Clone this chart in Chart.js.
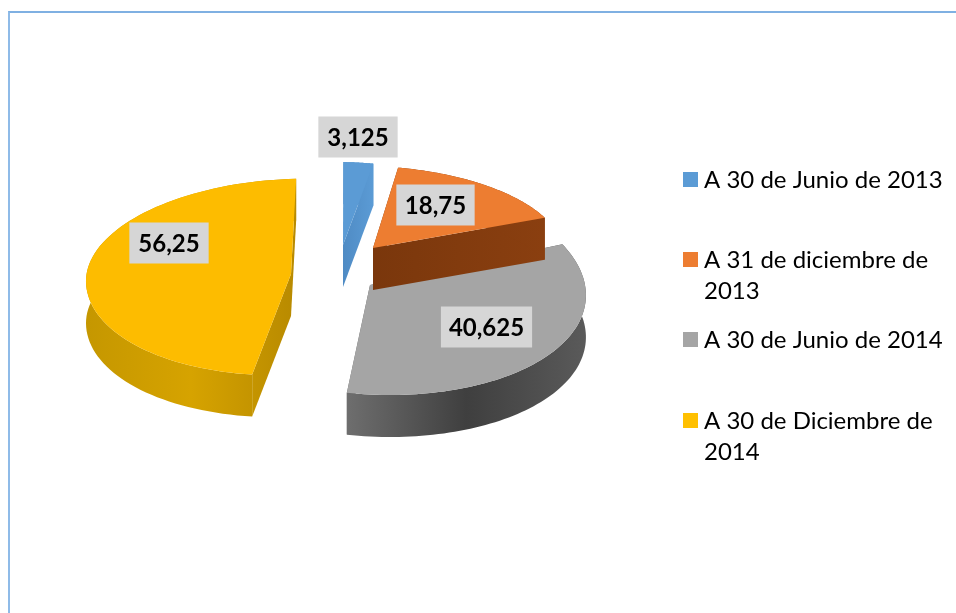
<!DOCTYPE html>
<html lang="es">
<head>
  <meta charset="UTF-8" />
  <title>Pie 3D</title>
  <script src="https://cdn.jsdelivr.net/npm/chart.js"></script>
  <style>
    html, body { margin: 0; background: #fff; overflow: hidden; }
    #frame { position: absolute; left: 8px; top: 11px; right: -4px; bottom: -4px;
             border-left: 2px solid #8fbbe8; border-top: 2px solid #7fb0e2; }
    canvas { position: absolute; left: 0; top: 0; }
  </style>
</head>
<body>
  <div id="frame"></div>
  <canvas id="pie" width="956" height="613"></canvas>

  <script>
    const categories = ["A 30 de Junio de 2013", "A 31 de diciembre de 2013", "A 30 de Junio de 2014", "A 30 de Diciembre de 2014"];
    const values = [3.125, 18.75, 40.625, 56.25];
    const colors = ["#5B9BD5", "#ED7D31", "#A5A5A5", "#FFC000"];

    // Legend wrap, same as the original
    const legendLines = [["A 30 de Junio de 2013"], ["A 31 de diciembre de", "2013"], ["A 30 de Junio de 2014"], ["A 30 de Diciembre de", "2014"]];
    const legendY = [180, 260, 340, 421];

    // Fake 3D: each exploded slice gets its own apex and ellipse on screen.
    // k and q lean the ellipse a bit, this stands in for the perspective of the original.
    const shapes = [
      { ax: 343, ay: 245, rx: 182, ry: 83, ryLow: 83, k: -6, q: 0, top: "#5B9BD5", side: ["#4F8BC4", "#5B9BD5"], labelX: 358, labelY: 137, pad: 18 },
      { ax: 373, ay: 248, rx: 190, ry: 82, ryLow: 82, k: -13, q: 0, top: "#ED7D31", side: ["#7A370C", "#8A3F10"], labelX: 435.5, labelY: 205, pad: 17 },
      { ax: 370, ay: 285, rx: 215, ry: 110, ryLow: 110, k: -20, q: 0, top: "#A5A5A5", side: ["#6E6E6E", "#3F3F3F", "#5A5A5A"], labelX: 486.5, labelY: 327, pad: 16 },
      { ax: 291, ay: 274, rx: 205, ry: 95, ryLow: 101, k: -2, q: -8, top: "#FDBC00", side: ["#C59700", "#D6A300", "#B88A00"], labelX: 169, labelY: 243, pad: 18 }
    ];
    const depth = 42;
    const drawOrder = [2, 1, 0, 3];

    function rimPoint(s, a) {
      const t = a + Math.PI / 2; // clockwise from the top
      const c = Math.cos(t), n = Math.sin(t);
      return { x: s.ax + s.rx * n + s.k * c, y: s.ay - (c > 0 ? s.ry : s.ryLow) * c + s.q * n };
    }

    function polygon(ctx, pts, fill) {
      ctx.beginPath();
      pts.forEach((p, i) => (i ? ctx.lineTo(p.x, p.y) : ctx.moveTo(p.x, p.y)));
      ctx.closePath();
      ctx.fillStyle = fill;
      ctx.fill();
    }

    function down(p) {
      return { x: p.x, y: p.y + depth };
    }

    function drawSlice(ctx, arc, s) {
      const apex = { x: s.ax, y: s.ay };
      const rim = [];
      const steps = 80;
      for (let i = 0; i <= steps; i++) {
        rim.push(rimPoint(s, arc.startAngle + (arc.endAngle - arc.startAngle) * i / steps));
      }
      const xs = rim.map((p) => p.x).concat(apex.x);
      const grad = ctx.createLinearGradient(Math.min(...xs), 0, Math.max(...xs), 0);
      s.side.forEach((c, i) => grad.addColorStop(i / (s.side.length - 1), c));

      // radial walls, outer wall, then the top surface over them
      const first = rim[0], last = rim[steps];
      polygon(ctx, [apex, first, down(first), down(apex)], grad);
      polygon(ctx, [apex, last, down(last), down(apex)], grad);
      polygon(ctx, rim.concat(rim.map(down).reverse()), grad);
      polygon(ctx, [apex].concat(rim), s.top);
    }

    const pie3d = {
      id: "pie3d",
      beforeDatasetsDraw(chart) {
        const ctx = chart.ctx;
        const arcs = chart.getDatasetMeta(0).data;
        ctx.save();
        ctx.filter = "blur(0.7px)"; // the original is a soft, rescaled picture
        drawOrder.forEach((i) => drawSlice(ctx, arcs[i], shapes[i]));
        ctx.filter = "none";

        // value labels
        ctx.textAlign = "center";
        ctx.textBaseline = "middle";
        values.forEach((v, i) => {
          const s = shapes[i];
          const text = String(v).replace(".", ",");
          ctx.font = "bold 24px Lato";
          const w = ctx.measureText(text).width + s.pad;
          ctx.fillStyle = "#D6D6D6";
          ctx.fillRect(s.labelX - w / 2, s.labelY - 20.5, w, 41);
          ctx.fillStyle = "#000";
          ctx.fillText(text, s.labelX, s.labelY + 1);
        });

        // legend
        ctx.textAlign = "left";
        legendLines.forEach((lines, i) => {
          ctx.fillStyle = colors[i];
          ctx.fillRect(683, legendY[i] - 8, 15, 15);
          ctx.fillStyle = "#000";
          ctx.font = "24px Lato";
          lines.forEach((line, j) => ctx.fillText(line, 704, legendY[i] + j * 31));
        });
        ctx.restore();
        return false;
      }
    };

    new Chart(document.getElementById("pie"), {
      type: "pie",
      data: {
        labels: categories,
        datasets: [{ data: values, backgroundColor: colors }]
      },
      options: {
        responsive: false,
        animation: false,
        rotation: 2,
        plugins: {
          legend: { display: false },
          tooltip: { enabled: false }
        }
      },
      plugins: [pie3d]
    });
  </script>
</body>
</html>
